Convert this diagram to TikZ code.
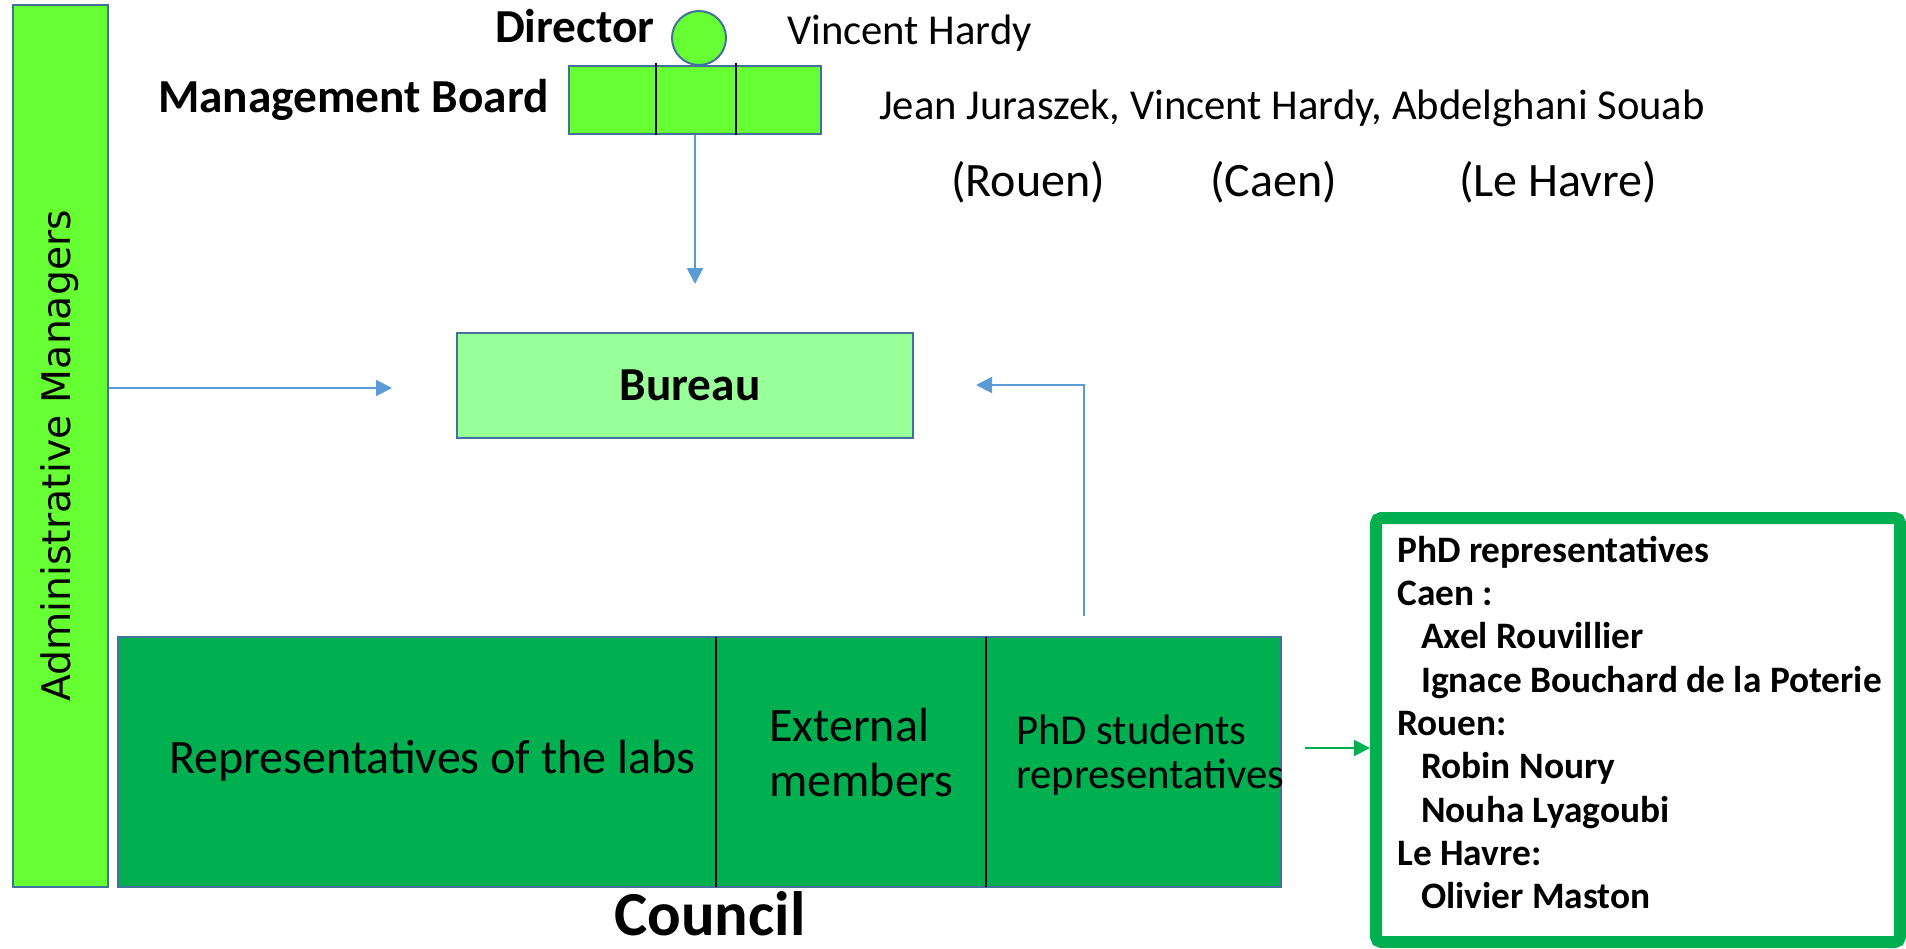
\documentclass[tikz,border=0pt]{standalone}
\usepackage{fontspec}
\setmainfont{Carlito}
\newfontfamily\sidefont{DejaVu Sans}
\usetikzlibrary{arrows.meta,fit}

\definecolor{boardgreen}{HTML}{66FF33}
\definecolor{bureaugreen}{HTML}{99FF99}
\definecolor{councilgreen}{HTML}{00B050}
\definecolor{boxedge}{HTML}{41719C}
\definecolor{linkblue}{HTML}{5B9BD5}

\begin{document}
\begin{tikzpicture}[x=0.75pt, y=-0.75pt,
    box/.style={draw=boxedge, line width=1.5pt, inner sep=0pt},
    label/.style={inner sep=0pt, text=black},
    link/.style={draw=linkblue, line width=1.5pt, -{Triangle[length=12pt, width=12pt]}},
    divider/.style={draw=black, line width=0.9pt}]
  \useasboundingbox (0,0) rectangle (1906,949);

  % left bar
  \node[box, fill=boardgreen, fit={(13,5) (108,887)}] (admin) {};
  \node[label, anchor=base, rotate=90, font=\sidefont\fontsize{29.5}{35}\selectfont]
    (admintext) at (70,456) {Administrative Managers};

  % director and board
  \node[box, fill=boardgreen, fit={(569,66) (821,134)}] (board) {};
  \draw[divider] (656,63) -- (656,135);
  \draw[divider] (736,63) -- (736,135);
  \node[box, circle, fill=boardgreen, minimum size=40.5pt] (director) at (699,38) {};
  \node[label, anchor=base east, font=\bfseries\fontsize{35.5}{42}\selectfont]
    (directortext) at (655,43) {Director};
  \node[label, anchor=base east, font=\bfseries\fontsize{35.5}{42}\selectfont]
    (boardtext) at (549,113) {Management Board};
  \node[label, anchor=base west, font=\fontsize{32}{38}\selectfont]
    (directorname) at (787,45) {Vincent Hardy};
  \node[label, anchor=base west, font=\fontsize{32}{38}\selectfont]
    (boardnames) at (879,119) {Jean Juraszek, Vincent Hardy, Abdelghani Souab};
  \foreach \site/\x in {Rouen/951, Caen/1210, Le Havre/1459}
    \node[label, anchor=base west, font=\fontsize{36}{43}\selectfont]
      (site-\x) at (\x,196) {(\site)};

  % bureau
  \node[box, fill=bureaugreen, fit={(457,333) (913,438)}] (bureau) {};
  \node[label, anchor=base, font=\bfseries\fontsize{35.5}{42}\selectfont]
    (bureautext) at (690,400) {Bureau};

  % council
  \node[box, fill=councilgreen, fit={(118,637) (1281,887)}] (council) {};
  \draw[divider] (716,637) -- (716,887);
  \draw[divider] (986,637) -- (986,887);
  \node[label, anchor=base west, font=\fontsize{36}{43}\selectfont]
    (labs) at (169,773) {Representatives of the labs};
  \node[label, anchor=base west, align=left, font=\fontsize{36}{41}\selectfont]
    (external) at (769,796) {External\\members};
  \node[label, anchor=base west, align=left, font=\fontsize{32}{33}\selectfont]
    (students) at (1016,788) {PhD students\\representatives};
  \node[label, anchor=base, font=\bfseries\fontsize{47}{56}\selectfont]
    (counciltext) at (710,935) {Council};

  % phd list
  \node[draw=councilgreen, line width=9pt, rounded corners=4pt, inner sep=0pt,
    fit={(1376,518) (1900,942)}] (phdbox) {};
  \foreach \txt/\ind [count=\row] in {PhD representatives/0, Caen :/0,
      Axel Rouvillier/1, Ignace Bouchard de la Poterie/1, Rouen:/0,
      Robin Noury/1, Nouha Lyagoubi/1, Le Havre:/0, Olivier Maston/1}
    \node[label, anchor=base west, font=\bfseries\fontsize{28}{34}\selectfont]
      (phd-\row) at (1397+24*\ind, 519+43.3*\row) {\txt};

  % links
  \coordinate (boardtip) at (695,284);
  \coordinate (admintip) at (392,388);
  \coordinate (phdfoot) at (1084,616);
  \coordinate (phdtip) at (976,385);
  \coordinate (listfoot) at (1305,748);
  \draw[link] (board.south) -- (boardtip);
  \draw[link] (admin.east |- admintip) -- (admintip);
  \draw[link] (phdfoot) |- (phdtip);
  \draw[draw=councilgreen, line width=1.5pt, -{Triangle[length=12pt, width=12pt]}]
    (listfoot) -- (phdbox.west |- listfoot);
\end{tikzpicture}
\end{document}
